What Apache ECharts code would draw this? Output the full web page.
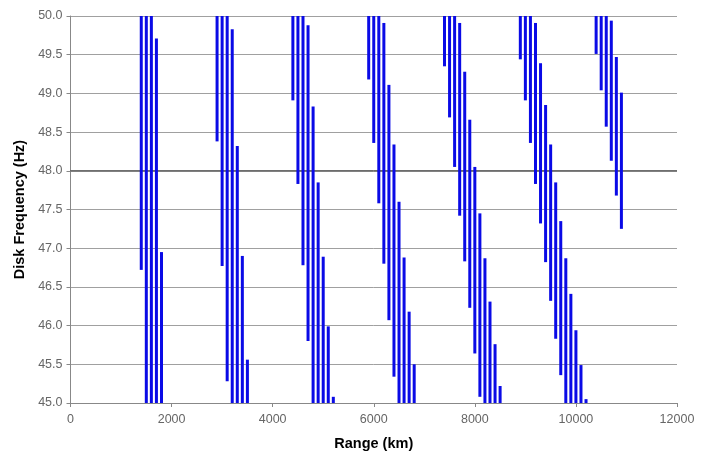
<!DOCTYPE html>
<html>
<head>
<meta charset="utf-8">
<script src="https://cdn.jsdelivr.net/npm/echarts@6/dist/echarts.min.js"></script>
<style>html,body{margin:0;padding:0;background:#fff;}#c{width:702px;height:451px;}</style>
</head>
<body>
<div id="c"></div>
<script>
// Range (km) of each vertical segment
const rangeKm = [
  1400,1500,1600,1700,1800,
  2900,3000,3100,3200,3300,3400,3500,
  4400,4500,4600,4700,4800,4900,5000,5100,5200,
  5900,6000,6100,6200,6300,6400,6500,6600,6700,6800,
  7400,7500,7600,7700,7800,7900,8000,8100,8200,8300,8400,8500,
  8900,9000,9100,9200,9300,9400,9500,9600,9700,9800,9900,10000,10100,10200,
  10400,10500,10600,10700,10800,10900
];
// Lower frequency end of each segment (Hz)
const freqLow = [
  46.72,45,45,45,45,
  48.38,46.77,45.28,45,45,45,45,
  48.91,47.83,46.78,45.80,45,45,45,45,45,
  49.18,48.36,47.58,46.80,46.07,45.34,45,45,45,45,
  49.35,48.69,48.05,47.42,46.83,46.23,45.64,45.08,45,45,45,45,
  49.44,48.91,48.36,47.83,47.32,46.82,46.32,45.83,45.36,45,45,45,45,45,
  49.51,49.04,48.57,48.13,47.68,47.25
];
// Upper frequency end of each segment (Hz)
const freqHigh = [
  50,50,50,49.71,46.95,
  50,50,50,49.83,48.32,46.90,45.56,
  50,50,50,49.88,48.83,47.85,46.89,45.99,45.08,
  50,50,50,49.91,49.11,48.34,47.60,46.88,46.18,45.50,
  50,50,50,49.91,49.28,48.66,48.05,47.45,46.87,46.31,45.76,45.22,
  50,50,50,49.91,49.39,48.85,48.34,47.85,47.35,46.87,46.41,45.94,45.49,45.05,
  50,50,50,49.94,49.47,49.01
];
const refLine = [[0,48],[12000,48]];

const segData = rangeKm.map((r,i)=>[r, freqLow[i], freqHigh[i]]);

const chart = echarts.init(document.getElementById('c'), null, {renderer:'canvas'});
const font = 'Liberation Sans, Arial, sans-serif';
chart.setOption({
  animation:false,
  backgroundColor:'#fff',
  grid:{left:70.5, right:25, top:16, bottom:48, containLabel:false, outerBoundsMode:'none'},
  xAxis:{
    type:'value', min:0, max:12000, interval:2000,
    name:'Range (km)', nameLocation:'middle', nameGap:33,
    nameTextStyle:{fontFamily:font, fontWeight:'bold', fontSize:14.5, color:'#000'},
    axisLine:{show:true, onZero:false, lineStyle:{color:'#888'}},
    axisTick:{show:true, inside:false, length:4, lineStyle:{color:'#888'}},
    axisLabel:{fontFamily:font, fontSize:12.5, color:'#666', margin:10, formatter:v=>String(v)},
    splitLine:{show:false}
  },
  yAxis:{
    type:'value', min:45, max:50, interval:0.5,
    name:'Disk Frequency (Hz)', nameLocation:'middle', nameGap:38, nameRotate:90,
    nameTextStyle:{fontFamily:font, fontWeight:'bold', fontSize:14.5, color:'#000'},
    axisLine:{show:true, lineStyle:{color:'#888'}},
    axisTick:{show:true, inside:false, length:4, lineStyle:{color:'#888'}},
    axisLabel:{fontFamily:font, fontSize:12.5, color:'#666', margin:8, formatter:v=>v.toFixed(1)},
    splitLine:{show:true, lineStyle:{color:'#a0a0a0', width:1}}
  },
  series:[
    {
      type:'line', data:refLine, symbol:'none', z:1,
      lineStyle:{color:'#333', width:1}, silent:true
    },
    {
      type:'custom', z:3,
      data:segData,
      encode:{x:0, y:[1,2]},
      renderItem:function(params, api){
        const x = api.value(0), lo = api.value(1), hi = api.value(2);
        const p1 = api.coord([x, lo]);
        const p2 = api.coord([x, hi]);
        return {type:'line', shape:{x1:p1[0], y1:p1[1], x2:p2[0], y2:p2[1]},
                style:{stroke:'#0a0ae6', lineWidth:3}};
      }
    }
  ]
});
</script>
</body>
</html>
